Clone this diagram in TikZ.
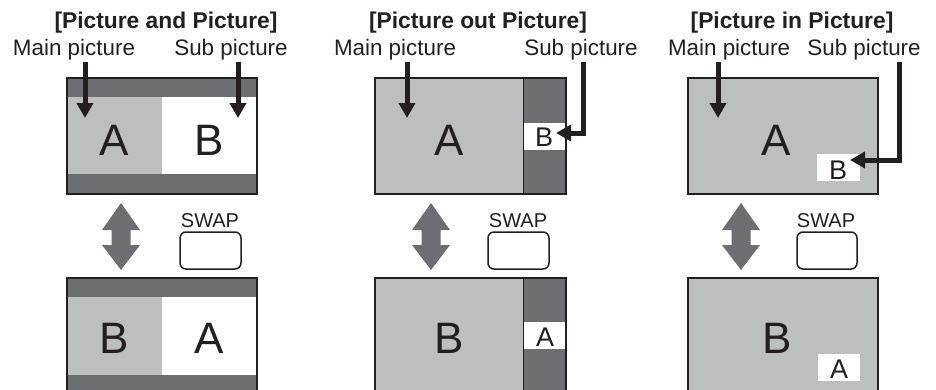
\documentclass[tikz,border=0pt]{standalone}
\usepackage{fontspec}
\setmainfont{Liberation Sans}
\usetikzlibrary{arrows.meta}
\definecolor{dk}{HTML}{6D6E71}
\definecolor{lt}{HTML}{BCBEC0}
\definecolor{ink}{HTML}{231F20}
\newcommand\swaparrow[1]{%
  \fill[dk] (#1,203) -- (#1+19,230) -- (#1+9.5,230) -- (#1+9.5,245) -- (#1+19,245)
    -- (#1,270) -- (#1-19,245) -- (#1-9.5,245) -- (#1-9.5,230) -- (#1-19,230) -- cycle;}
\begin{document}
\begin{tikzpicture}[x=1pt,y=-1pt,
  frame/.style={draw=ink,line width=1.3pt},
  divider/.style={draw=ink,line width=1pt},
  ptr/.style={line width=5pt,draw=ink,-{Triangle[width=16pt,length=15pt]}},
  ttl/.style={font=\fontsize{22.8}{26}\selectfont\bfseries,anchor=base,text=ink,inner sep=0pt},
  lab/.style={font=\fontsize{22.4}{26}\selectfont,anchor=base,text=ink,inner sep=0pt},
  big/.style={font=\fontsize{44}{50}\selectfont,anchor=base,text=ink,inner sep=0pt},
  small/.style={font=\fontsize{27}{30}\selectfont,anchor=base,text=ink,inner sep=0pt},
  swaplab/.style={font=\fontsize{20}{24}\selectfont,anchor=base,text=ink,inner sep=0pt},
  btn/.style={draw=ink,line width=1.5pt,rounded corners=6pt,fill=white}]
\useasboundingbox (0,0) rectangle (936,389);
\clip (0,0) rectangle (936,389);

% ---------- Panel 1: Picture and Picture ----------
\node[ttl] (t1) at (166,28) {[Picture and Picture]};
\node[lab] (m1) at (74,55) {Main picture};
\node[lab] (s1) at (231,55) {Sub picture};
\fill[dk] (67,78) rectangle (257,194);
\fill[lt] (67,97) rectangle (162,174);
\fill[white] (162,97) rectangle (257,174);
\draw[frame] (67,78) rectangle (257,194);
\node[big] (a1) at (114,155) {A};
\node[big] (b1) at (209,155) {B};
\coordinate (m1s) at (85,62); \coordinate (m1e) at (85,118);
\coordinate (s1s) at (238,62); \coordinate (s1e) at (238,118);
\draw[ptr] (m1s) -- (m1e);
\draw[ptr] (s1s) -- (s1e);
\swaparrow{121}
\node[swaplab] (w1) at (210,227) {SWAP};
\draw[btn] (180,232) rectangle (241,269);
\fill[dk] (67,278) rectangle (257,394);
\fill[lt] (67,297) rectangle (162,375);
\fill[white] (162,297) rectangle (257,375);
\draw[frame] (67,278) rectangle (257,394);
\node[big] (b1b) at (114,353) {B};
\node[big] (a1b) at (209,353) {A};

% ---------- Panel 2: Picture out Picture ----------
\node[ttl] (t2) at (478,28) {[Picture out Picture]};
\node[lab] (m2) at (395,55) {Main picture};
\node[lab] (s2) at (581,55) {Sub picture};
\fill[lt] (375,78) rectangle (523,194);
\fill[dk] (523,78) rectangle (566,194);
\fill[white] (523,123) rectangle (566,150);
\draw[divider] (523,78) -- (523,194);
\draw[frame] (375,78) rectangle (566,194);
\node[big] (a2) at (449,155) {A};
\node[small] (b2) at (544,146) {B};
\coordinate (m2s) at (407,62); \coordinate (m2e) at (407,118);
\coordinate (s2s) at (583,62); \coordinate (s2e) at (556,133);
\draw[ptr] (m2s) -- (m2e);
\draw[ptr] (s2s) |- (s2e);
\swaparrow{431}
\node[swaplab] (w2) at (518,227) {SWAP};
\draw[btn] (488,232) rectangle (549,269);
\fill[lt] (375,278) rectangle (523,394);
\fill[dk] (523,278) rectangle (566,394);
\fill[white] (523,322) rectangle (566,349);
\draw[divider] (523,278) -- (523,394);
\draw[frame] (375,278) rectangle (566,394);
\node[big] (b2b) at (449,353) {B};
\node[small] (a2b) at (545,346) {A};

% ---------- Panel 3: Picture in Picture ----------
\node[ttl] (t3) at (792,28) {[Picture in Picture]};
\node[lab] (m3) at (729,55) {Main picture};
\node[lab] (s3) at (864,55) {Sub picture};
\fill[lt] (688,78) rectangle (878,194);
\fill[white] (817,154) rectangle (860,181);
\draw[frame] (688,78) rectangle (878,194);
\node[big] (a3) at (776,155) {A};
\node[small] (b3) at (838,179) {B};
\coordinate (m3s) at (718,62); \coordinate (m3e) at (718,118);
\coordinate (s3s) at (899,62); \coordinate (s3e) at (850,160);
\draw[ptr] (m3s) -- (m3e);
\draw[ptr] (s3s) |- (s3e);
\swaparrow{741}
\node[swaplab] (w3) at (826,227) {SWAP};
\draw[btn] (797,232) rectangle (857,269);
\fill[lt] (688,278) rectangle (878,394);
\fill[white] (818,354) rectangle (860,381);
\draw[frame] (688,278) rectangle (878,394);
\node[big] (b3b) at (777,353) {B};
\node[small] (a3b) at (839,378) {A};
\end{tikzpicture}
\end{document}
